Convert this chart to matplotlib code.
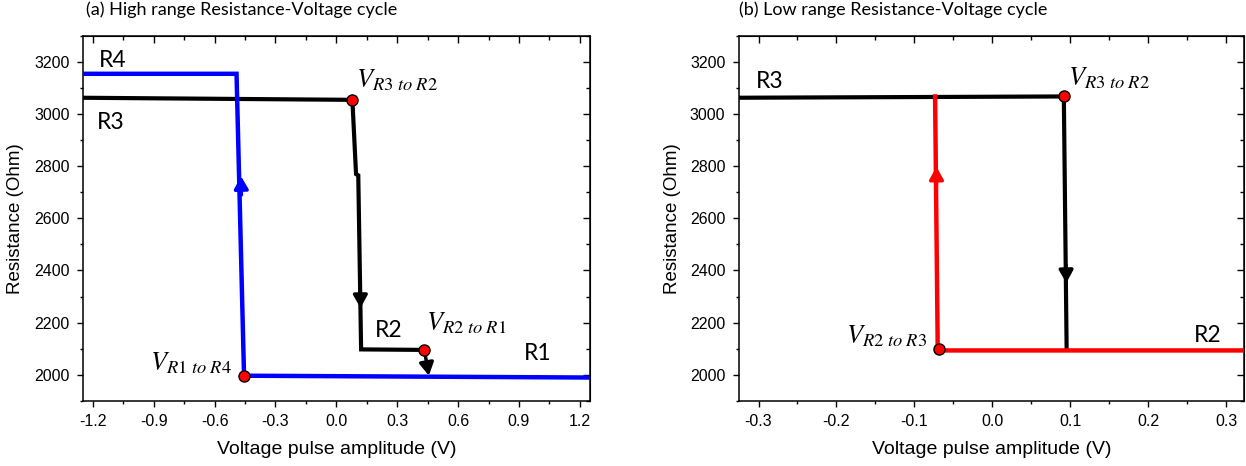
import matplotlib
matplotlib.use("Agg")
import matplotlib.pyplot as plt
from matplotlib.ticker import MultipleLocator

# ── Data ──────────────────────────────────────────────────────────────────────
# (a) high range cycle
a_black_v = [-1.25, 0.079, 0.097, 0.108, 0.122, 0.434]
a_black_r = [3063, 3055, 2770, 2765, 2097, 2095]
a_blue_v  = [-1.25, -0.492, -0.455, 1.25]
a_blue_r  = [3155, 3155, 1996, 1989]
a_dots_v  = [0.079, 0.434, -0.455]
a_dots_r  = [3055, 2094, 1996]

# (b) low range cycle
b_black_v = [-0.33, 0.0918, 0.0954]
b_black_r = [3063, 3068, 2095]
b_red_v   = [-0.0734, -0.0700, -0.0682, 0.33]
b_red_r   = [3068, 2093, 2093, 2093]
b_dots_v  = [0.0918, -0.0690]
b_dots_r  = [3068, 2100]

# arrows: (tail_v, tail_r, tip_v, tip_r, colour)
a_arrows = [(-0.468, 2690, -0.470, 2762, "#0000FF"),
            (0.118, 2330, 0.119, 2256, "black"),
            (0.434, 2094, 0.456, 1996, "black")]
b_arrows = [(-0.0716, 2730, -0.0717, 2798, "#FF0000"),
            (0.0946, 2420, 0.0950, 2352, "black")]

# labels: (v, r, text, ha, kind)
a_labels = [(-1.169, 3205, "R4", "left", "r"),
            (-1.178, 2967, "R3", "left", "r"),
            (0.190, 2170, "R2", "left", "r"),
            (0.925, 2082, "R1", "left", "r"),
            (0.098, 3128, r"$V_{R3\ to\ R2}$", "left", "m"),
            (0.440, 2197, r"$V_{R2\ to\ R1}$", "left", "m"),
            (-0.515, 2045, r"$V_{R1\ to\ R4}$", "right", "m")]
b_labels = [(-0.3036, 3125, "R3", "left", "r"),
            (0.259, 2150, "R2", "left", "r"),
            (0.0966, 3137, r"$V_{R3\ to\ R2}$", "left", "m"),
            (-0.0836, 2148, r"$V_{R2\ to\ R3}$", "right", "m")]

plt.rcParams["mathtext.fontset"] = "stix"
TICK_FONT = "Liberation Sans"
TEXT_FONT = "Lato"


def style_axes(ax, xlim, xmajor):
    ax.set_xlim(*xlim)
    ax.set_ylim(1900, 3300)
    ax.xaxis.set_major_locator(MultipleLocator(xmajor))
    ax.xaxis.set_minor_locator(MultipleLocator(xmajor / 2))
    ax.yaxis.set_major_locator(MultipleLocator(200))
    ax.yaxis.set_minor_locator(MultipleLocator(100))
    ax.set_yticks([2000, 2200, 2400, 2600, 2800, 3000, 3200])
    ax.xaxis.set_major_formatter(plt.FuncFormatter(lambda v, p: f"{v:.1f}"))
    ax.tick_params(which="both", direction="out", top=False, right=False,
                   labelsize=11.5, pad=5, width=1.0)
    ax.tick_params(which="major", length=4.5)
    ax.tick_params(which="minor", length=2.5)
    # mirrored inward ticks on top/right
    sec_x = ax.secondary_xaxis("top")
    sec_x.xaxis.set_major_locator(MultipleLocator(xmajor))
    sec_x.xaxis.set_minor_locator(MultipleLocator(xmajor / 2))
    sec_x.tick_params(which="both", direction="in", labeltop=False, width=1.0)
    sec_x.tick_params(which="major", length=5)
    sec_x.tick_params(which="minor", length=3)
    sec_y = ax.secondary_yaxis("right")
    sec_y.yaxis.set_major_locator(MultipleLocator(200))
    sec_y.yaxis.set_minor_locator(MultipleLocator(100))
    sec_y.tick_params(which="both", direction="in", labelright=False, width=1.0)
    sec_y.tick_params(which="major", length=5)
    sec_y.tick_params(which="minor", length=3)
    for lab in ax.get_xticklabels() + ax.get_yticklabels():
        lab.set_fontfamily(TICK_FONT)
    for sp in ax.spines.values():
        sp.set_linewidth(1.1)
    ax.set_xlabel("Voltage pulse amplitude (V)", fontsize=14, family=TICK_FONT)
    ax.set_ylabel("Resistance (Ohm)", fontsize=13.5, family=TICK_FONT)


def add_arrows(ax, arrows):
    for tv, tr, hv, hr, col in arrows:
        ax.annotate("", xy=(hv, hr), xytext=(tv, tr),
                    arrowprops=dict(arrowstyle="-|>,head_length=0.75,head_width=0.42",
                                    color=col, lw=2.5, shrinkA=0, shrinkB=0,
                                    mutation_scale=10), zorder=6)


def add_labels(ax, labels):
    for v, r, txt, ha, kind in labels:
        if kind == "r":
            ax.text(v, r, txt, ha=ha, va="center", fontsize=16.5, family=TEXT_FONT)
        else:
            ax.text(v, r, txt, ha=ha, va="center", fontsize=19)


fig = plt.figure(figsize=(12.46, 4.66), dpi=100)
ax1 = fig.add_axes([0.0664, 0.1401, 0.4071, 0.7826])
ax2 = fig.add_axes([0.5928, 0.1401, 0.4056, 0.7826])

# Panel (a)
ax1.plot(a_black_v, a_black_r, color="black", lw=3, solid_joinstyle="miter", zorder=3)
ax1.plot(a_blue_v, a_blue_r, color="#0000FF", lw=3.2, solid_joinstyle="miter", zorder=4)
ax1.plot(a_dots_v, a_dots_r, "o", ms=8, mfc="#FF0000", mec="black", mew=1.0, zorder=7)
add_arrows(ax1, a_arrows)
add_labels(ax1, a_labels)
style_axes(ax1, (-1.25, 1.25), 0.3)
ax1.yaxis.set_label_coords(-0.1157, 0.5)
ax1.xaxis.set_label_coords(0.5, -0.1105)

# Panel (b)
ax2.plot(b_black_v, b_black_r, color="black", lw=3, solid_joinstyle="miter", zorder=3)
ax2.plot(b_red_v, b_red_r, color="#FF0000", lw=3.2, solid_joinstyle="miter", zorder=4)
ax2.plot(b_dots_v, b_dots_r, "o", ms=8, mfc="#FF0000", mec="black", mew=1.0, zorder=7)
add_arrows(ax2, b_arrows)
add_labels(ax2, b_labels)
style_axes(ax2, (-0.3255, 0.323), 0.1)
ax2.yaxis.set_label_coords(-0.1138, 0.5)
ax2.xaxis.set_label_coords(0.5, -0.1105)

fig.text(0.069, 0.979, "(a) High range Resistance-Voltage cycle",
         fontsize=13, family=TEXT_FONT, ha="left", va="center")
fig.text(0.593, 0.979, "(b) Low range Resistance-Voltage cycle",
         fontsize=13, family=TEXT_FONT, ha="left", va="center")

fig.savefig("out.png", dpi=100)
